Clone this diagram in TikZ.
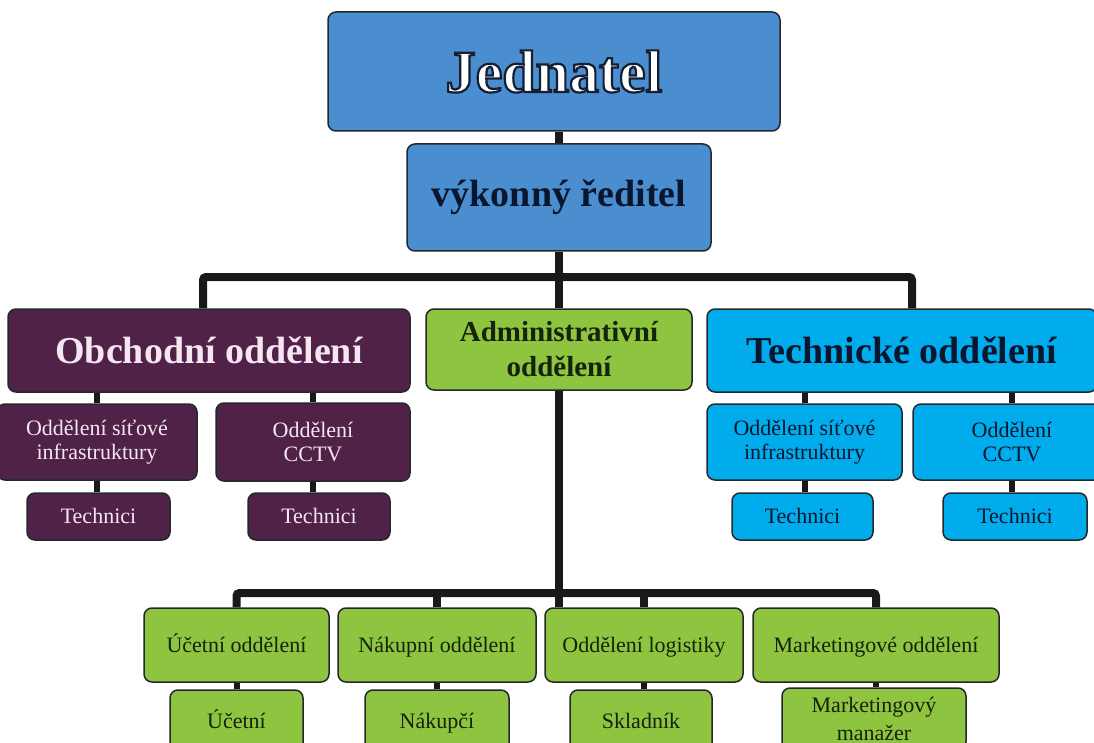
\documentclass[tikz,border=0pt]{standalone}
\usepackage{fontspec}
\setmainfont{Liberation Serif}
\usetikzlibrary{backgrounds}
\definecolor{topblue}{RGB}{74,142,208}
\definecolor{purp}{RGB}{80,34,72}
\definecolor{grn}{RGB}{142,196,64}
\definecolor{cyn}{RGB}{0,172,236}
\definecolor{edgecol}{RGB}{35,40,45}
\definecolor{conncol}{RGB}{25,25,25}
\definecolor{navytext}{RGB}{10,22,45}
\definecolor{greentext}{RGB}{20,35,10}
\definecolor{pinktext}{RGB}{245,230,242}
\newcommand\outlinedtext[1]{\special{pdf:literal direct 2 Tr 0.08 0.12 0.2 RG 2.2 w}#1\special{pdf:literal direct 0 Tr 1 w}}
\tikzset{
 box/.style={draw=edgecol, line width=1.5pt, rounded corners=8pt, inner sep=0pt, align=center, anchor=center},
 bluebox/.style={box, fill=topblue, text=navytext},
 purpbox/.style={box, fill=purp, text=pinktext},
 grnbox/.style={box, fill=grn, text=greentext},
 cynbox/.style={box, fill=cyn, text=navytext},
 bigtext/.style={font=\bfseries\fontsize{38}{42}\selectfont},
 smalltext/.style={font=\fontsize{22}{24}\selectfont, text height=17pt, text depth=3pt},
 smalltwo/.style={font=\fontsize{22}{24}\selectfont},
 conn/.style={draw=conncol, line width=8pt, rounded corners=3pt},
 subconn/.style={draw=conncol, line width=6pt},
}
\begin{document}
\begin{tikzpicture}[x=1pt,y=-1pt]
\useasboundingbox (0,0) rectangle (1094,743);
\clip (0,0) rectangle (1094,743);
% top
\node[bluebox, minimum width=452pt, minimum height=119pt, font=\bfseries\fontsize{60}{62}\selectfont, text=white] (jed) at (554,71.5) {\outlinedtext{Jednatel}};
\node[bluebox, bigtext, minimum width=304pt, minimum height=107pt] (ved) at (559,197.5) {výkonný ředitel};
% departments
\node[purpbox, bigtext, minimum width=402pt, minimum height=83pt] (obch) at (209,350.5) {Obchodní oddělení};
\node[grnbox, font=\bfseries\fontsize{29}{35}\selectfont, minimum width=266pt, minimum height=81pt] (adm) at (559,349.5) {Administrativní\\oddělení};
\node[cynbox, bigtext, minimum width=390pt, minimum height=83pt] (tech) at (902,350.5) {Technické oddělení};
% obchodni subs
\node[purpbox, smalltwo, minimum width=200pt, minimum height=76pt] (os1) at (97,442) {Oddělení síťové\\infrastruktury};
\node[purpbox, smalltwo, minimum width=194pt, minimum height=78pt] (oc1) at (313,442) {Oddělení\\CCTV};
\node[purpbox, smalltext, minimum width=143pt, minimum height=47pt] (ot1) at (98.5,516.5) {Technici};
\node[purpbox, smalltext, minimum width=142pt, minimum height=47pt] (ot2) at (319,516.5) {Technici};
% technicke subs
\node[cynbox, smalltwo, minimum width=195pt, minimum height=76pt] (ts1) at (804.5,442) {Oddělení síťové\\infrastruktury};
\node[cynbox, smalltwo, minimum width=198pt, minimum height=76pt] (tc1) at (1012,442) {Oddělení\\CCTV};
\node[cynbox, smalltext, minimum width=141pt, minimum height=47pt] (tt1) at (802.5,516.5) {Technici};
\node[cynbox, smalltext, minimum width=144pt, minimum height=47pt] (tt2) at (1015,516.5) {Technici};
% administrativni subs
\node[grnbox, smalltext, minimum width=185pt, minimum height=74pt] (u1) at (236.5,645) {Účetní oddělení};
\node[grnbox, smalltext, minimum width=198pt, minimum height=74pt] (n1) at (437,645) {Nákupní oddělení};
\node[grnbox, smalltext, minimum width=198pt, minimum height=74pt] (l1) at (644,645) {Oddělení logistiky};
\node[grnbox, smalltext, minimum width=246pt, minimum height=74pt] (m1) at (876,645) {Marketingové oddělení};
\node[grnbox, smalltext, minimum width=133pt, minimum height=62pt] (u2) at (236.5,721) {Účetní};
\node[grnbox, smalltext, minimum width=144pt, minimum height=62pt] (n2) at (437,721) {Nákupčí};
\node[grnbox, smalltext, minimum width=142pt, minimum height=62pt] (l2) at (641,721) {Skladník};
\node[grnbox, font=\fontsize{22}{28}\selectfont, minimum width=184pt, minimum height=62pt] (m2) at (874,719) {Marketingový\\manažer};
% connectors
\coordinate (b1) at (203,277);
\coordinate (b2) at (912,277);
\coordinate (lb) at (0,593);
\begin{scope}[on background layer]
\draw[conn] (b1 |- obch.north) -- (b1) -- (b2) -- (b2 |- tech.north);
\draw[conn] (jed.south -| ved.north) -- (ved.north);
\draw[conn] (ved.south) -- (adm.north);
\draw[conn] (u1.north) -- (u1.north |- lb) -- (m1.north |- lb) -- (m1.north);
\draw[conn] (n1.north) -- (n1.north |- lb);
\draw[conn] (l1.north) -- (l1.north |- lb);
\draw[conn] (adm.south) -- (adm.south |- l1.north);
\draw[subconn] (os1.north) -- (os1.north |- obch.south);
\draw[subconn] (oc1.north) -- (oc1.north |- obch.south);
\draw[subconn] (ot1.north -| os1.south) -- (os1.south);
\draw[subconn] (ot2.north -| oc1.south) -- (oc1.south);
\draw[subconn] (ts1.north) -- (ts1.north |- tech.south);
\draw[subconn] (tc1.north) -- (tc1.north |- tech.south);
\draw[subconn] (tt1.north -| ts1.south) -- (ts1.south);
\draw[subconn] (tt2.north -| tc1.south) -- (tc1.south);
\draw[subconn] (u2.north -| u1.south) -- (u1.south);
\draw[subconn] (n2.north -| n1.south) -- (n1.south);
\draw[subconn] (l2.north -| l1.south) -- (l1.south);
\draw[subconn] (m2.north -| m1.south) -- (m1.south);
\end{scope}
\end{tikzpicture}
\end{document}
